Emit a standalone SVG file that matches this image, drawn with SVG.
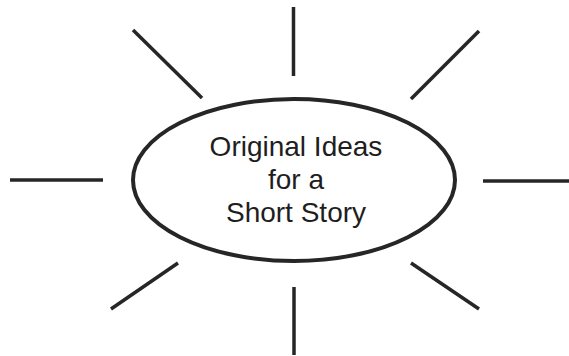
<svg xmlns="http://www.w3.org/2000/svg" width="569" height="356" viewBox="0 0 569 356">
<style>
.ray{stroke:#262626;stroke-width:3.5;stroke-linecap:butt;fill:none}
.oval{fill:#fff;stroke:#262626;stroke-width:4}
.lbl{font-family:"Liberation Sans",Arial,sans-serif;font-size:28px;fill:#1e1e1e;text-anchor:middle}
</style>
<rect width="569" height="356" fill="#fff"/>
<g id="connectors">
<line class="ray" x1="293.5" y1="7" x2="293.5" y2="76"/>
<line class="ray" x1="133" y1="30" x2="202" y2="98"/>
<line class="ray" x1="479" y1="31" x2="411" y2="99"/>
<line class="ray" x1="10" y1="180" x2="103" y2="180"/>
<line class="ray" x1="483" y1="181" x2="569" y2="181"/>
<line class="ray" x1="178" y1="263" x2="111" y2="309"/>
<line class="ray" x1="411" y1="263" x2="479" y2="309"/>
<line class="ray" x1="294" y1="287" x2="294" y2="355"/>
</g>
<g id="center">
<ellipse class="oval" cx="294" cy="180" rx="161" ry="81"/>
<text class="lbl" x="296" y="156">Original Ideas</text>
<text class="lbl" x="296" y="189">for a</text>
<text class="lbl" x="296" y="222">Short Story</text>
</g>
</svg>
